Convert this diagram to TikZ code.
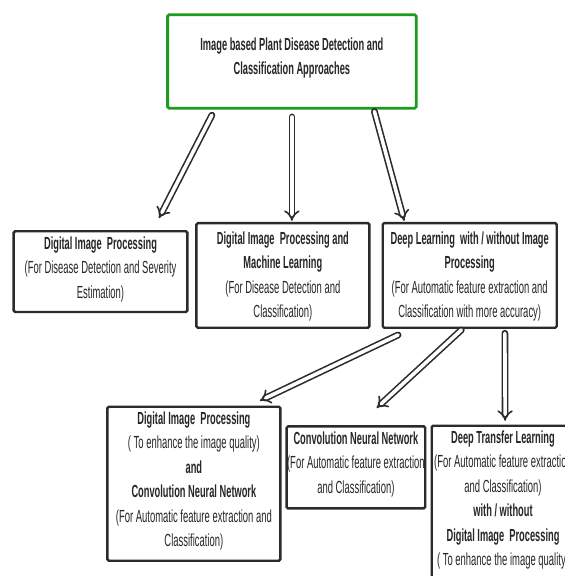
\documentclass[tikz,border=0pt]{standalone}
\usepackage{fontspec}
\setmainfont{Liberation Sans}[FakeStretch=0.54, BoldFeatures={FakeStretch=0.53}]
\usetikzlibrary{arrows.meta}
\definecolor{boxc}{HTML}{2B2B2B}
\definecolor{txtc}{HTML}{262626}
\definecolor{topgreen}{HTML}{1E9A1E}
\tikzset{
  box/.style={draw=boxc, line width=2.4pt, rounded corners=1.5pt, fill=white, inner sep=0pt},
  txt/.style={align=center, text=txtc, font=\fontsize{17.5}{24.5}\selectfont, inner sep=0pt},
  dbl/.style={draw=boxc, line width=1.6pt, double=white, double distance=3.6pt, -{Implies[scale=1.3]}, line cap=round}
}
\begin{document}
\begin{tikzpicture}[x=1pt,y=-1pt]
\useasboundingbox[fill=white] (0,0) rectangle (565,576);
% boxes
\node[box, draw=topgreen, line width=2.8pt, minimum width=248.6pt, minimum height=93.6pt] (top) at (291.9,61.5) {};
\node[txt] (toptxt) at (291.9,58.2) {\textbf{Image based Plant Disease Detection and}\\\textbf{Classification Approaches}};

\node[box, minimum width=173.7pt, minimum height=80.8pt] (A) at (100.5,271.6) {};
\node[txt] (Atxt) at (100.5,269.3) {\textbf{Digital Image\ \ Processing}\\(For Disease Detection and Severity\\Estimation)};

\node[box, minimum width=173pt, minimum height=104.7pt] (B) at (282.9,275.4) {};
\node[txt] (Btxt) at (282.9,276.4) {\textbf{Digital Image\ \ Processing and}\\\textbf{Machine Learning}\\(For Disease Detection and\\Classification)};

\node[box, minimum width=174pt, minimum height=104.7pt] (C) at (469.7,275.4) {};
\node[txt] (Ctxt) at (469.7,276.4) {\textbf{Deep Learning\ \ with / without Image}\\\textbf{Processing}\\(For Automatic feature extraction and\\Classification with more accuracy)};

\node[box, minimum width=173pt, minimum height=154pt] (D) at (193.9,483.7) {};
\node[txt] (Dtxt) at (193.9,480.9) {\textbf{Digital Image\ \ Processing}\\( To enhance the image quality)\\\textbf{and}\\\textbf{Convolution Neural Network}\\(For Automatic feature extraction and\\Classification)};

\node[box, minimum width=138.7pt, minimum height=82pt] (E) at (355.9,467.4) {};
\node[txt] (Etxt) at (355.9,464.4) {\textbf{Convolution Neural Network}\\(For Automatic feature extraction\\and Classification)};

\node[box, minimum width=142.6pt, minimum height=190pt] (F) at (503,520.7) {};
\node[txt] (Ftxt) at (503,500) {\textbf{Deep Transfer Learning}\\(For Automatic feature extraction\\and Classification)\\\textbf{with / without}\\\textbf{Digital Image\ \ Processing}\\( To enhance the image quality)};

% arrows
\draw[dbl] ([xshift=45.7pt,yshift=-5.5pt]top.south west) -- ([xshift=-29.6pt,yshift=11.8pt]A.north east);
\draw[dbl] ([yshift=-7.3pt]top.south) -- ([xshift=9pt,yshift=1pt]B.north);
\draw[dbl] ([xshift=-43.2pt,yshift=-1.7pt]top.south east) -- ([xshift=22.7pt,yshift=1pt]C.north west);
\draw[dbl] ([xshift=16.6pt,yshift=-6pt]C.south west) -- ([xshift=-21.7pt,yshift=4.8pt]D.north east);
\draw[dbl] ([xshift=-8.4pt,yshift=-1pt]C.south) -- ([xshift=20.7pt,yshift=17.2pt]E.north);
\draw[dbl] ([xshift=-53pt,yshift=-4.3pt]C.south east) -- ([xshift=74.6pt,yshift=3.7pt]F.north west);
\end{tikzpicture}
\end{document}
